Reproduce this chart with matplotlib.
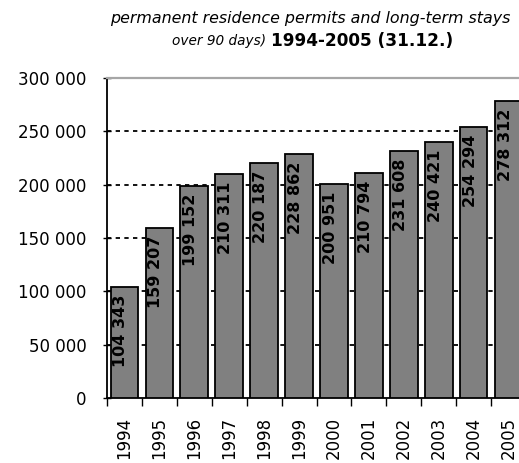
import matplotlib
matplotlib.use("Agg")
import matplotlib.pyplot as plt
import numpy as np

years = ["1994", "1995", "1996", "1997", "1998", "1999", "2000", "2001", "2002", "2003", "2004", "2005"]
values = [104343, 159207, 199152, 210311, 220187, 228862, 200951, 210794, 231608, 240421, 254294, 278312]
y_ticks = [0, 50000, 100000, 150000, 200000, 250000, 300000]
title_line1 = "permanent residence permits and long-term stays"
title_line2a = "over 90 days)"
title_line2b = "1994-2005 (31.12.)"


def fmt(v):
    return f"{v:,}".replace(",", " ")


W, H = 519, 463
fig = plt.figure(figsize=(W / 100, H / 100), dpi=100)
fig.patch.set_facecolor("white")

left_px, right_px, bottom_px, top_px = 107, 526, 398, 78
ax = fig.add_axes([left_px / W, (H - bottom_px) / H,
                   (right_px - left_px) / W, (bottom_px - top_px) / H])

x = np.arange(len(years))
bars = ax.bar(x, values, width=0.79, color="#808080", edgecolor="black",
              linewidth=1.3, zorder=3)

ax.set_xlim(-0.5, len(years) - 0.5)
ax.set_ylim(0, 300000)

# dashed gridlines (inner ones)
for t in y_ticks[1:-1]:
    ax.axhline(t, color="black", linestyle=(0, (2.4, 2.4)), linewidth=1.3, zorder=1)

# spines
ax.spines["left"].set_color("black")
ax.spines["left"].set_linewidth(1.3)
ax.spines["bottom"].set_color("black")
ax.spines["bottom"].set_linewidth(1.3)
ax.spines["top"].set_color("#a6a6a6")
ax.spines["top"].set_linewidth(1.6)
ax.spines["right"].set_visible(False)

# y ticks
ax.set_yticks(y_ticks)
ax.set_yticklabels([fmt(t) for t in y_ticks])
ax.tick_params(axis="y", direction="inout", length=6, width=1.0, pad=11.5,
               labelsize=12, colors="black")

# x ticks: labels at centers, tick marks at boundaries
ax.set_xticks(x)
ax.set_xticklabels(years, rotation=90, fontsize=12)
ax.tick_params(axis="x", which="major", length=0, pad=13.5)
ax.set_xticks(np.arange(-0.5, len(years), 1.0), minor=True)
ax.tick_params(axis="x", which="minor", direction="out", length=5.5, width=1.0)
ax.tick_params(axis="y", which="minor", length=0)

# value labels
for xi, v in zip(x, values):
    ax.annotate(fmt(v), xy=(xi, v), xytext=(-2.5, -5.5), textcoords="offset points",
                rotation=90, ha="center", va="top", fontsize=11.5,
                fontweight="bold", color="black", zorder=4)

# title
fig.text(310 / W, 1 - 18 / H, title_line1, ha="center", va="center",
         fontsize=11.4, style="italic", color="black")
fig.text(266 / W, 1 - 41 / H, title_line2a, ha="right", va="center",
         fontsize=9.8, style="italic", color="black")
fig.text(271 / W, 1 - 41 / H, title_line2b, ha="left", va="center",
         fontsize=12.2, fontweight="bold", color="black")

fig.savefig("out.png", dpi=100, facecolor="white")
